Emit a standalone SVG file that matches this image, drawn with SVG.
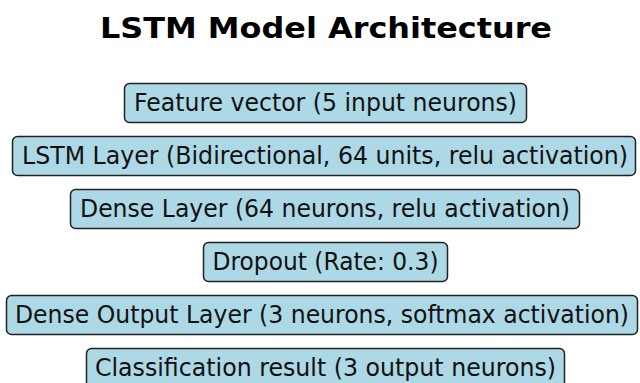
<svg xmlns="http://www.w3.org/2000/svg" width="640" height="383" viewBox="0 0 640 383">
<style>
.box{fill:#add8e6;stroke:#222;stroke-width:1.5}
.lbl{font-family:"DejaVu Sans",sans-serif;font-size:24px;fill:#111;text-anchor:middle}
.title{font-family:"DejaVu Sans",sans-serif;font-size:28.3px;font-weight:bold;fill:#000;text-anchor:middle}
</style>
<rect width="640" height="383" fill="#fff"/>
<text class="title" x="326" y="37.5" textLength="452" lengthAdjust="spacingAndGlyphs">LSTM Model Architecture</text>
<g id="connectors"></g>
<g id="n1"><rect class="box" x="124.5" y="83.5" width="402" height="39" rx="5"/><text class="lbl" x="325.5" y="110.5" textLength="383" lengthAdjust="spacingAndGlyphs">Feature vector (5 input neurons)</text></g>
<g id="n2"><rect class="box" x="12.5" y="136.5" width="623" height="39" rx="5"/><text class="lbl" x="325" y="163.5" textLength="606" lengthAdjust="spacingAndGlyphs">LSTM Layer (Bidirectional, 64 units, relu activation)</text></g>
<g id="n3"><rect class="box" x="70.5" y="189.5" width="509" height="39" rx="5"/><text class="lbl" x="325" y="216.5" textLength="490" lengthAdjust="spacingAndGlyphs">Dense Layer (64 neurons, relu activation)</text></g>
<g id="n4"><rect class="box" x="203.5" y="242.5" width="244" height="39" rx="5"/><text class="lbl" x="325.5" y="269.5" textLength="226" lengthAdjust="spacingAndGlyphs">Dropout (Rate: 0.3)</text></g>
<g id="n5"><rect class="box" x="6.5" y="295.5" width="631" height="39" rx="5"/><text class="lbl" x="322" y="322.5" textLength="614" lengthAdjust="spacingAndGlyphs">Dense Output Layer (3 neurons, softmax activation)</text></g>
<g id="n6"><rect class="box" x="86.5" y="348.5" width="478" height="39" rx="5"/><text class="lbl" x="325.5" y="375.5" textLength="461" lengthAdjust="spacingAndGlyphs">Classification result (3 output neurons)</text></g>
</svg>
